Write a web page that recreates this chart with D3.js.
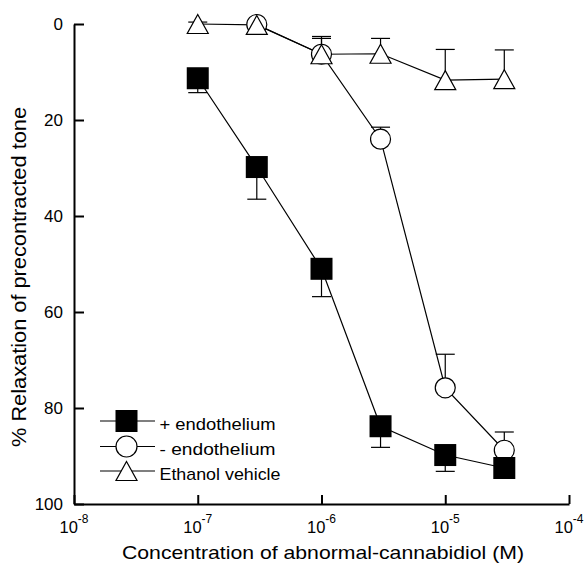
<!DOCTYPE html>
<html>
<head>
<meta charset="utf-8">
<script src="https://d3js.org/d3.v7.min.js"></script>
<style>
  body { margin: 0; background: #fff; }
  svg { font-family: "Liberation Sans", Arial, sans-serif; }
</style>
</head>
<body>
<svg id="chart" width="585" height="564"></svg>
<script>
// concentrations (M)
const concAll = [1e-7, 3e-7, 1e-6, 3e-6, 1e-5, 3e-5];
const concMinus = [3e-7, 1e-6, 3e-6, 1e-5, 3e-5];

// % relaxation and SEM
const plusEndo = [11.3, 29.8, 51, 83.8, 89.8, 92.5];
const plusEndoErr = [3, 6.7, 5.8, 4.4, 3.4, 0];
const minusEndo = [0.1, 6.3, 24, 75.8, 88.8];
const minusEndoErr = [0, 3.3, 2.5, 7, 3.8];
const vehicle = [0, 0.2, 6.3, 6.2, 11.7, 11.5];
const vehicleErr = [0.4, 0, 3.7, 3.2, 6.4, 6.1];

const yTicks = [0, 20, 40, 60, 80, 100];
const xTicks = [1e-8, 1e-7, 1e-6, 1e-5, 1e-4];
const legendLabels = ["+ endothelium", "-  endothelium", "Ethanol vehicle"];

const svg = d3.select("#chart");
const x = d3.scaleLog().domain([1e-8, 1e-4]).range([74, 569]);
const y = d3.scaleLinear().domain([0, 100]).range([24, 504]);

// axes
const yAxis = svg.append("g")
    .attr("transform", "translate(74,0)")
    .call(d3.axisLeft(y).tickValues(yTicks).tickSizeInner(-10).tickSizeOuter(0).tickPadding(11));
const xAxis = svg.append("g")
    .attr("transform", "translate(0,504)")
    .call(d3.axisBottom(x).tickValues(xTicks).tickSizeInner(-9).tickSizeOuter(0).tickFormat(""));
[yAxis, xAxis].forEach(a => {
  a.select(".domain").attr("stroke", "#000").attr("stroke-width", 2);
  a.selectAll(".tick line").attr("stroke", "#000").attr("stroke-width", 2);
});
yAxis.selectAll(".tick text").attr("font-size", 17).attr("fill", "#000")
    .attr("font-family", "Liberation Sans, Arial, sans-serif");

const xl = svg.append("g").attr("font-size", 16.5);
xTicks.forEach(v => {
  const t = xl.append("text").attr("x", x(v)).attr("y", 533).attr("text-anchor", "middle");
  t.append("tspan").text("10");
  t.append("tspan").attr("dy", -10).attr("font-size", 12).text(Math.round(Math.log10(v)));
});

svg.append("text").attr("x", 323).attr("y", 559).attr("text-anchor", "middle")
    .attr("font-size", 19).attr("textLength", 402).attr("lengthAdjust", "spacingAndGlyphs")
    .text("Concentration of abnormal-cannabidiol (M)");
svg.append("text").attr("transform", "translate(26,277) rotate(-90)").attr("text-anchor", "middle")
    .attr("font-size", 20).attr("textLength", 340).attr("lengthAdjust", "spacingAndGlyphs")
    .text("% Relaxation of precontracted tone");

const line = d3.line().x(d => x(d[0])).y(d => y(d[1]));

function errBars(conc, vals, errs, dir) {
  const g = svg.append("g").attr("stroke", "#000").attr("stroke-width", 1.2);
  conc.forEach((c, i) => {
    if (!errs[i]) return;
    const cx = x(c), v = vals[i] + dir * errs[i];
    g.append("line").attr("x1", cx).attr("x2", cx).attr("y1", y(vals[i])).attr("y2", y(v));
    g.append("line").attr("x1", cx - 9.5).attr("x2", cx + 9.5).attr("y1", y(v)).attr("y2", y(v));
  });
}

function tri(cx, cy) {
  return `M${cx},${cy - 9.5}L${cx + 10.5},${cy + 9.5}L${cx - 10.5},${cy + 9.5}Z`;
}

// lines
[[concMinus, minusEndo], [concAll, plusEndo], [concAll, vehicle]].forEach(([c, v]) => {
  svg.append("path").datum(c.map((d, i) => [d, v[i]]))
      .attr("d", line).attr("fill", "none").attr("stroke", "#000").attr("stroke-width", 1.2);
});

// error bars
errBars(concMinus, minusEndo, minusEndoErr, -1);
errBars(concAll, plusEndo, plusEndoErr, 1);
errBars(concAll, vehicle, vehicleErr, -1);

// markers
svg.append("g").selectAll("circle").data(concMinus).join("circle")
    .attr("cx", d => x(d)).attr("cy", (d, i) => y(minusEndo[i])).attr("r", 10)
    .attr("fill", "#fff").attr("stroke", "#000").attr("stroke-width", 1.2);
svg.append("g").selectAll("rect").data(concAll).join("rect")
    .attr("x", d => x(d) - 11).attr("y", (d, i) => y(plusEndo[i]) - 11)
    .attr("width", 22).attr("height", 22).attr("fill", "#000");
svg.append("g").selectAll("path").data(concAll).join("path")
    .attr("d", (d, i) => tri(x(d), y(vehicle[i])))
    .attr("fill", "#fff").attr("stroke", "#000").attr("stroke-width", 1.2);

// legend
const lg = svg.append("g");
const rowsY = [421, 446.5, 471];
const textW = [116, 116, 121];
legendLabels.forEach((lab, i) => {
  const ry = rowsY[i];
  lg.append("line").attr("x1", 100).attr("x2", 155).attr("y1", ry).attr("y2", ry)
      .attr("stroke", "#000").attr("stroke-width", 1.2);
  if (i === 0) lg.append("rect").attr("x", 115.5).attr("y", ry - 11).attr("width", 22).attr("height", 22).attr("fill", "#000");
  if (i === 1) lg.append("circle").attr("cx", 126.5).attr("cy", ry).attr("r", 10.5)
      .attr("fill", "#fff").attr("stroke", "#000").attr("stroke-width", 1.2);
  if (i === 2) lg.append("path").attr("d", tri(126.5, ry)).attr("fill", "#fff").attr("stroke", "#000").attr("stroke-width", 1.2);
  lg.append("text").attr("x", 159.5).attr("y", ry + 8.5).attr("font-size", 17)
      .attr("textLength", textW[i]).attr("lengthAdjust", "spacingAndGlyphs").text(lab);
});
</script>
</body>
</html>
